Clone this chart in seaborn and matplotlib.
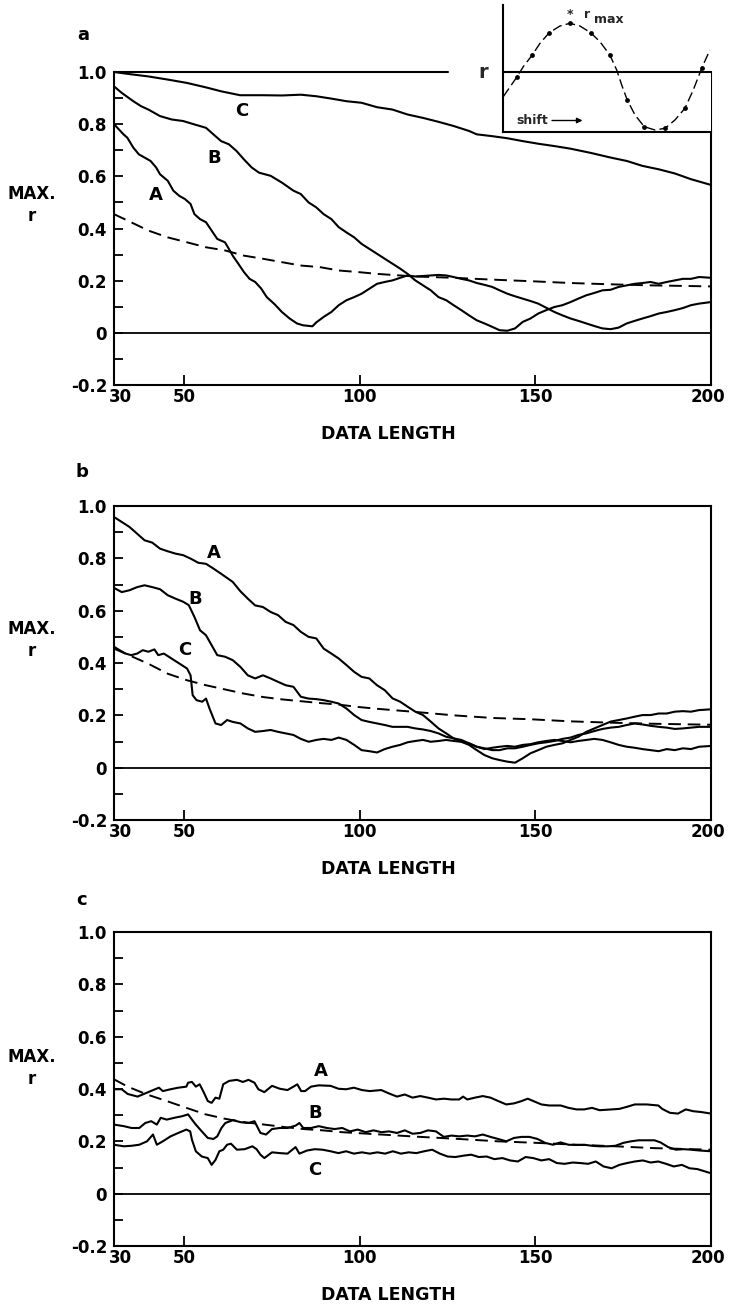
import matplotlib
matplotlib.use("Agg")
import matplotlib.pyplot as plt
from matplotlib.ticker import FixedLocator
from matplotlib.transforms import ScaledTranslation
import pandas as pd
import seaborn as sns

# ---------------- data ----------------
x_ticks = [30, 50, 100, 150, 200]
x_ticklabels = ["30", "50", "100", "150", "200"]
y_ticks = [-0.2, 0.0, 0.2, 0.4, 0.6, 0.8, 1.0]
y_ticklabels = ["-0.2", "0", "0.2", "0.4", "0.6", "0.8", "1.0"]
y_minor = [-0.1, 0.1, 0.3, 0.5, 0.7, 0.9]

# panel a
a_A = [(30, 0.800), (32.7, 0.761), (33.8, 0.748), (35.5, 0.710), (37.1, 0.684), (38.7, 0.672),
       (40.4, 0.659), (42.0, 0.634), (43.1, 0.608), (45.3, 0.583), (46.9, 0.545), (48.6, 0.525),
       (50.2, 0.513), (51.8, 0.494), (52.9, 0.455), (54.5, 0.436), (56.2, 0.424), (57.8, 0.392),
       (59.4, 0.360), (61.6, 0.347), (62.7, 0.322), (63.8, 0.296), (65.4, 0.265), (67.0, 0.233),
       (68.6, 0.207), (70.2, 0.195), (71.9, 0.170), (73.5, 0.137), (75.7, 0.110), (77.8, 0.080),
       (80.0, 0.055), (82.1, 0.036), (83.8, 0.029), (86.5, 0.025), (87.6, 0.040), (89.7, 0.061),
       (91.9, 0.080), (94.0, 0.106), (96.2, 0.125), (98.4, 0.137), (100.5, 0.150), (102.7, 0.169),
       (104.9, 0.188), (107.1, 0.195), (109.3, 0.201), (111.5, 0.211), (113.6, 0.220), (115.8, 0.216),
       (118.0, 0.218), (120.2, 0.220), (122.4, 0.222), (124.6, 0.220), (126.7, 0.214), (128.9, 0.207),
       (131.1, 0.201), (133.3, 0.191), (135.5, 0.184), (137.7, 0.176), (139.8, 0.163), (142.0, 0.150),
       (144.2, 0.140), (146.4, 0.131), (148.6, 0.122), (150.8, 0.112), (153.1, 0.096), (155.4, 0.080),
       (157.7, 0.067), (160.0, 0.055), (162.2, 0.046), (164.5, 0.036), (166.8, 0.026), (169.1, 0.017),
       (171.4, 0.014), (173.7, 0.020), (176.0, 0.036), (178.3, 0.046), (180.5, 0.055), (182.8, 0.064),
       (185.1, 0.074), (187.4, 0.080), (189.7, 0.087), (192.0, 0.095), (194.3, 0.106), (196.6, 0.112),
       (200, 0.118)]
a_B = [(30, 0.945), (32.2, 0.920), (35.5, 0.888), (37.7, 0.869), (39.8, 0.856), (43.1, 0.831),
       (46.4, 0.818), (49.7, 0.812), (52.9, 0.799), (56.2, 0.786), (58.3, 0.761), (60.5, 0.735),
       (62.7, 0.723), (64.9, 0.697), (67.0, 0.665), (69.2, 0.634), (71.3, 0.614), (74.6, 0.602),
       (77.8, 0.576), (81.1, 0.545), (83.2, 0.532), (85.4, 0.500), (87.6, 0.481), (89.7, 0.455),
       (91.9, 0.436), (94.0, 0.405), (96.2, 0.385), (98.4, 0.366), (100.5, 0.341), (102.7, 0.322),
       (104.9, 0.303), (107.1, 0.284), (109.3, 0.265), (111.5, 0.246), (113.6, 0.226), (115.8, 0.201),
       (118.0, 0.182), (120.2, 0.163), (122.4, 0.137), (124.6, 0.125), (126.7, 0.106), (128.9, 0.087),
       (131.1, 0.067), (133.3, 0.048), (135.5, 0.036), (137.7, 0.023), (139.8, 0.010), (142.0, 0.008),
       (144.2, 0.017), (146.4, 0.042), (148.6, 0.055), (150.8, 0.074), (153.1, 0.087), (155.4, 0.099),
       (157.7, 0.106), (160.0, 0.118), (162.2, 0.131), (164.5, 0.144), (166.8, 0.153), (169.1, 0.163),
       (171.4, 0.165), (173.7, 0.176), (176.0, 0.182), (178.3, 0.188), (180.5, 0.191), (182.8, 0.195),
       (185.1, 0.188), (187.4, 0.195), (189.7, 0.201), (192.0, 0.207), (194.3, 0.207), (196.6, 0.214),
       (200, 0.211)]
a_C = [(30, 1.0), (34.4, 0.992), (39.8, 0.983), (45.3, 0.971), (50.8, 0.958), (56.2, 0.941),
       (60.5, 0.926), (65.9, 0.911), (72.4, 0.911), (77.8, 0.910), (83.2, 0.913), (87.6, 0.907),
       (91.9, 0.898), (96.2, 0.888), (100.5, 0.882), (104.9, 0.865), (109.3, 0.856), (113.6, 0.837),
       (118.0, 0.824), (122.4, 0.809), (126.7, 0.793), (131.1, 0.774), (133.3, 0.761), (137.7, 0.754),
       (142.0, 0.746), (146.4, 0.735), (150.8, 0.725), (155.4, 0.716), (160.0, 0.706), (165.7, 0.690),
       (171.4, 0.672), (176.0, 0.659), (180.5, 0.640), (185.1, 0.627), (189.7, 0.611), (194.3, 0.589),
       (200, 0.567)]
a_limit = [(30, 0.455), (34.4, 0.427), (39.8, 0.392), (45.3, 0.366), (50.8, 0.347), (56.2, 0.328),
           (61.6, 0.316), (67.0, 0.296), (72.4, 0.284), (77.8, 0.271), (83.2, 0.258), (88.6, 0.252),
           (94.0, 0.239), (99.5, 0.233), (104.9, 0.226), (115.8, 0.216), (126.7, 0.211), (137.7, 0.204),
           (148.6, 0.198), (160.0, 0.191), (171.4, 0.186), (182.8, 0.182), (200, 0.178)]

# panel b
b_A = [(30, 0.958), (32.2, 0.939), (34.4, 0.920), (36.6, 0.894), (38.7, 0.869), (40.9, 0.860),
       (43.1, 0.837), (45.3, 0.827), (47.5, 0.818), (49.7, 0.812), (51.8, 0.799), (54.0, 0.783),
       (56.2, 0.779), (58.3, 0.761), (60.5, 0.741), (63.8, 0.710), (66.0, 0.674), (68.1, 0.646),
       (70.2, 0.620), (72.4, 0.614), (74.6, 0.595), (76.7, 0.583), (78.9, 0.557), (81.1, 0.545),
       (83.2, 0.519), (85.4, 0.500), (87.6, 0.494), (89.7, 0.455), (91.9, 0.436), (94.0, 0.417),
       (96.2, 0.392), (98.4, 0.366), (100.5, 0.347), (102.7, 0.341), (104.9, 0.315), (107.1, 0.296),
       (109.3, 0.265), (111.5, 0.252), (113.6, 0.233), (115.8, 0.214), (118.0, 0.201), (120.2, 0.176),
       (122.4, 0.150), (124.6, 0.131), (126.7, 0.112), (128.9, 0.099), (131.1, 0.087), (133.3, 0.067),
       (135.5, 0.048), (137.7, 0.036), (139.8, 0.029), (142.0, 0.023), (144.2, 0.019), (146.4, 0.036),
       (148.6, 0.055), (150.8, 0.067), (153.1, 0.080), (155.4, 0.087), (157.7, 0.093), (160.0, 0.106),
       (162.2, 0.118), (164.5, 0.137), (166.8, 0.150), (169.1, 0.163), (171.4, 0.176), (173.7, 0.182),
       (176.0, 0.188), (178.3, 0.195), (180.5, 0.201), (182.8, 0.201), (185.1, 0.207), (187.4, 0.207),
       (189.7, 0.214), (192.0, 0.216), (194.3, 0.214), (196.6, 0.220), (200, 0.223)]
b_B = [(30, 0.687), (32.2, 0.671), (34.4, 0.678), (36.6, 0.690), (38.7, 0.697), (40.9, 0.690),
       (43.1, 0.682), (45.3, 0.659), (47.5, 0.646), (49.7, 0.634), (51.3, 0.621), (52.9, 0.576),
       (54.5, 0.525), (56.2, 0.506), (57.8, 0.468), (59.4, 0.430), (61.6, 0.424), (63.8, 0.411),
       (66.0, 0.385), (68.1, 0.353), (70.2, 0.341), (72.4, 0.353), (74.6, 0.341), (76.7, 0.328),
       (78.9, 0.315), (81.1, 0.309), (83.2, 0.271), (85.4, 0.264), (87.6, 0.262), (89.7, 0.258),
       (91.9, 0.252), (94.0, 0.245), (96.2, 0.226), (98.4, 0.201), (100.5, 0.182), (102.7, 0.175),
       (104.9, 0.169), (107.1, 0.163), (109.3, 0.156), (111.5, 0.156), (113.6, 0.156), (115.8, 0.150),
       (118.0, 0.146), (120.2, 0.140), (122.4, 0.131), (124.6, 0.118), (126.7, 0.112), (128.9, 0.106),
       (131.1, 0.093), (133.3, 0.080), (135.5, 0.074), (137.7, 0.067), (139.8, 0.067), (142.0, 0.074),
       (144.2, 0.074), (146.4, 0.080), (148.6, 0.087), (150.8, 0.093), (153.1, 0.097), (155.4, 0.102),
       (157.7, 0.110), (160.0, 0.115), (162.2, 0.125), (164.5, 0.131), (166.8, 0.140), (169.1, 0.148),
       (171.4, 0.153), (173.7, 0.156), (176.0, 0.163), (178.3, 0.169), (180.5, 0.165), (182.8, 0.160),
       (185.1, 0.156), (187.4, 0.153), (189.7, 0.148), (192.0, 0.150), (194.3, 0.153), (196.6, 0.156),
       (200, 0.156)]
b_C = [(30, 0.462), (31.6, 0.449), (33.3, 0.436), (34.9, 0.430), (36.6, 0.436), (38.2, 0.449),
       (39.8, 0.443), (41.5, 0.452), (42.6, 0.430), (44.2, 0.436), (46.4, 0.417), (48.6, 0.398),
       (50.8, 0.379), (51.8, 0.353), (52.4, 0.277), (53.5, 0.258), (55.1, 0.252), (56.2, 0.264),
       (57.2, 0.226), (58.9, 0.169), (60.5, 0.163), (62.2, 0.182), (63.8, 0.175), (66.0, 0.169),
       (68.1, 0.150), (70.2, 0.137), (72.4, 0.140), (74.6, 0.144), (76.7, 0.137), (78.9, 0.131),
       (81.1, 0.125), (83.2, 0.110), (85.4, 0.099), (87.6, 0.106), (89.7, 0.110), (91.9, 0.106),
       (94.0, 0.115), (96.2, 0.106), (98.4, 0.087), (100.5, 0.067), (102.7, 0.063), (104.9, 0.058),
       (107.1, 0.071), (109.3, 0.080), (111.5, 0.087), (113.6, 0.097), (115.8, 0.102), (118.0, 0.106),
       (120.2, 0.099), (122.4, 0.102), (124.6, 0.106), (126.7, 0.102), (128.9, 0.099), (131.1, 0.093),
       (133.3, 0.080), (135.5, 0.071), (137.7, 0.076), (139.8, 0.080), (142.0, 0.083), (144.2, 0.080),
       (146.4, 0.087), (148.6, 0.090), (150.8, 0.097), (153.1, 0.102), (155.4, 0.106), (157.7, 0.102),
       (160.0, 0.097), (162.2, 0.102), (164.5, 0.106), (166.8, 0.110), (169.1, 0.106), (171.4, 0.097),
       (173.7, 0.087), (176.0, 0.080), (178.3, 0.076), (180.5, 0.071), (182.8, 0.067), (185.1, 0.063),
       (187.4, 0.071), (189.7, 0.067), (192.0, 0.074), (194.3, 0.071), (196.6, 0.080), (200, 0.083)]
b_limit = [(30, 0.455), (34.4, 0.429), (39.8, 0.397), (45.3, 0.359), (50.8, 0.334), (56.2, 0.315),
           (61.6, 0.299), (67.0, 0.283), (72.4, 0.270), (77.8, 0.261), (83.2, 0.254), (88.6, 0.247),
           (94.0, 0.241), (99.5, 0.232), (104.9, 0.225), (115.8, 0.213), (126.7, 0.200), (137.7, 0.190),
           (148.6, 0.185), (160.0, 0.177), (171.4, 0.172), (182.8, 0.168), (200, 0.164)]

# panel c
c_A = [(30, 0.399), (32.2, 0.399), (33.9, 0.381), (36.7, 0.371), (39.4, 0.386), (41.7, 0.399),
       (42.8, 0.405), (43.9, 0.392), (46.1, 0.399), (48.3, 0.405), (50.6, 0.409), (51.1, 0.424),
       (52.2, 0.427), (53.3, 0.409), (54.4, 0.418), (55.6, 0.386), (56.7, 0.354), (57.8, 0.347),
       (58.9, 0.367), (60.0, 0.363), (61.1, 0.418), (62.8, 0.431), (65.0, 0.435), (66.7, 0.427),
       (68.3, 0.435), (70.0, 0.424), (71.1, 0.399), (72.8, 0.388), (75.0, 0.412), (77.2, 0.401),
       (79.4, 0.396), (81.1, 0.409), (82.2, 0.418), (83.3, 0.392), (84.4, 0.392), (86.1, 0.409),
       (88.3, 0.414), (91.7, 0.412), (93.9, 0.401), (96.1, 0.399), (98.3, 0.405), (100.6, 0.396),
       (102.8, 0.392), (106.1, 0.396), (108.3, 0.383), (110.6, 0.371), (112.8, 0.379), (115.0, 0.367),
       (117.2, 0.373), (119.4, 0.367), (121.7, 0.360), (123.9, 0.363), (126.1, 0.360), (128.3, 0.360),
       (129.4, 0.371), (130.6, 0.360), (132.8, 0.367), (135.0, 0.373), (137.2, 0.367), (139.4, 0.354),
       (141.7, 0.341), (143.9, 0.345), (146.1, 0.354), (147.8, 0.363), (149.4, 0.354), (151.7, 0.341),
       (153.9, 0.337), (157.2, 0.337), (159.4, 0.328), (161.7, 0.322), (163.9, 0.322), (166.1, 0.328),
       (168.3, 0.319), (171.7, 0.322), (173.9, 0.324), (176.1, 0.332), (178.3, 0.341), (181.7, 0.341),
       (185.0, 0.337), (186.1, 0.324), (188.3, 0.309), (190.6, 0.306), (192.8, 0.322), (195.0, 0.315),
       (197.2, 0.312), (200, 0.306)]
c_B = [(30, 0.264), (32.8, 0.258), (35.0, 0.251), (37.2, 0.251), (38.9, 0.270), (40.6, 0.277),
       (42.2, 0.264), (43.3, 0.290), (45.0, 0.283), (47.2, 0.290), (49.4, 0.296), (51.1, 0.303),
       (52.2, 0.283), (53.3, 0.264), (55.0, 0.238), (56.7, 0.213), (58.3, 0.209), (59.4, 0.219),
       (60.6, 0.251), (61.7, 0.270), (63.9, 0.281), (66.1, 0.273), (68.3, 0.270), (70.0, 0.277),
       (71.7, 0.232), (73.3, 0.226), (75.0, 0.247), (77.2, 0.251), (79.4, 0.251), (81.7, 0.260),
       (82.8, 0.270), (83.9, 0.251), (86.1, 0.251), (88.3, 0.258), (90.6, 0.251), (92.8, 0.247),
       (95.0, 0.251), (97.2, 0.238), (99.4, 0.245), (101.7, 0.235), (103.9, 0.242), (106.1, 0.235),
       (108.3, 0.238), (110.6, 0.232), (112.8, 0.242), (115.0, 0.229), (117.2, 0.232), (119.4, 0.242),
       (121.7, 0.238), (123.9, 0.217), (126.1, 0.222), (128.3, 0.219), (130.6, 0.222), (132.8, 0.219),
       (135.0, 0.226), (137.2, 0.217), (139.4, 0.209), (141.7, 0.200), (143.9, 0.213), (146.1, 0.217),
       (148.3, 0.217), (150.6, 0.209), (152.8, 0.194), (155.0, 0.187), (157.2, 0.196), (159.4, 0.187),
       (161.7, 0.186), (163.9, 0.187), (166.1, 0.183), (168.3, 0.181), (170.6, 0.181), (172.8, 0.183),
       (175.0, 0.194), (177.2, 0.200), (179.4, 0.204), (183.9, 0.204), (185.6, 0.196), (187.8, 0.178),
       (190.0, 0.168), (192.2, 0.170), (194.4, 0.168), (196.7, 0.165), (200, 0.162)]
c_C = [(30, 0.187), (32.8, 0.181), (35.0, 0.183), (37.2, 0.187), (39.4, 0.200), (41.1, 0.226),
       (42.2, 0.187), (43.9, 0.200), (46.1, 0.219), (48.3, 0.232), (50.6, 0.245), (51.7, 0.238),
       (52.2, 0.206), (53.3, 0.162), (55.0, 0.142), (56.7, 0.136), (57.8, 0.110), (58.9, 0.129),
       (60.0, 0.162), (61.1, 0.168), (62.2, 0.187), (63.3, 0.191), (65.0, 0.168), (67.2, 0.170),
       (69.4, 0.181), (70.6, 0.170), (71.7, 0.149), (72.8, 0.136), (75.0, 0.158), (77.2, 0.155),
       (79.4, 0.153), (81.7, 0.178), (82.8, 0.153), (85.0, 0.165), (87.2, 0.170), (89.4, 0.168),
       (91.7, 0.162), (93.9, 0.155), (96.1, 0.162), (98.3, 0.153), (100.6, 0.158), (102.8, 0.153),
       (105.0, 0.158), (107.2, 0.153), (109.4, 0.162), (111.7, 0.153), (113.9, 0.158), (116.1, 0.155),
       (118.3, 0.162), (120.6, 0.168), (122.8, 0.153), (125.0, 0.142), (127.2, 0.140), (129.4, 0.145),
       (131.7, 0.149), (133.9, 0.140), (136.1, 0.142), (138.3, 0.132), (140.6, 0.136), (142.8, 0.127),
       (145.0, 0.123), (147.2, 0.140), (149.4, 0.136), (151.7, 0.127), (153.9, 0.132), (156.1, 0.117),
       (158.3, 0.114), (160.6, 0.119), (162.8, 0.117), (165.0, 0.114), (167.2, 0.123), (169.4, 0.104),
       (171.7, 0.097), (173.9, 0.110), (176.1, 0.117), (178.3, 0.123), (180.6, 0.127), (182.8, 0.119),
       (185.0, 0.123), (187.2, 0.114), (189.4, 0.104), (191.7, 0.110), (193.9, 0.097), (196.1, 0.094),
       (198.3, 0.085), (200, 0.078)]
c_limit = [(30, 0.437), (33.9, 0.409), (39.4, 0.379), (45.0, 0.354), (50.6, 0.328), (56.1, 0.303),
           (61.7, 0.286), (67.2, 0.273), (72.8, 0.264), (78.3, 0.255), (83.9, 0.247), (89.4, 0.242),
           (95.0, 0.235), (106.1, 0.226), (117.2, 0.217), (128.3, 0.209), (139.4, 0.200), (150.6, 0.194),
           (161.7, 0.187), (172.8, 0.181), (183.9, 0.174), (200, 0.168)]

# curve labels (x, y) per panel
a_labels = [("A", 41.8, 0.530), ("B", 58.6, 0.672), ("C", 66.4, 0.852)]
b_labels = [("A", 58.3, 0.822), ("B", 53.0, 0.646), ("C", 50.2, 0.448)]
c_labels = [("A", 88.8, 0.467), ("B", 87.2, 0.309), ("C", 87.2, 0.091)]

# inset schematic (shift, r)
inset_curve_shift = [0.02, 0.74, 1.10, 1.58, 2.0, 2.50, 3.08, 3.62, 4.16, 4.74, 5.24, 5.78,
                     6.15, 6.42, 6.72, 7.14, 7.64, 8.22, 8.76, 9.30, 9.84, 10.29, 10.76, 11.19]
inset_curve_r = [-0.49, -0.106, 0.107, 0.34, 0.573, 0.786, 0.92, 0.974, 0.92, 0.786, 0.607, 0.34,
                 0.04, -0.26, -0.56, -0.86, -1.094, -1.16, -1.126, -0.96, -0.726, -0.36, 0.086, 0.44]
inset_dot_shift = [0.74, 1.58, 2.50, 3.62, 4.74, 5.78, 6.72, 7.64, 8.76, 9.84, 10.76]
inset_dot_r = [-0.106, 0.34, 0.786, 0.974, 0.786, 0.34, -0.56, -1.094, -1.126, -0.726, 0.086]

# ---------------- style ----------------
sns.set_theme(style="white")
plt.rcParams["font.family"] = ["DejaVu Sans"]
plt.rcParams["font.weight"] = "bold"
plt.rcParams["axes.labelweight"] = "bold"

W, H = 730, 1306
fig = plt.figure(figsize=(W / 100, H / 100), dpi=100)
fig.patch.set_facecolor("white")


def fig_rect(left, top, right, bottom):
    return [left / W, 1 - bottom / H, (right - left) / W, (bottom - top) / H]


def to_df(pairs):
    return pd.DataFrame(pairs, columns=["length", "r"])


def draw_panel(rect, curves, limit, labels, letter, letter_pos, ylab_y, top_spine=True):
    ax = fig.add_axes(rect)
    ax.set_facecolor("white")
    for pairs in curves:
        sns.lineplot(data=to_df(pairs), x="length", y="r", ax=ax, color="black",
                     linewidth=1.5, estimator=None, sort=False)
    sns.lineplot(data=to_df(limit), x="length", y="r", ax=ax, color="black",
                 linewidth=1.4, estimator=None, sort=False, linestyle=(0, (6.5, 3.5)))
    ax.axhline(0, color="black", linewidth=1.3)
    ax.set_xlim(30, 200)
    ax.set_ylim(-0.2, 1.0)
    ax.xaxis.set_major_locator(FixedLocator(x_ticks))
    ax.set_xticklabels(x_ticklabels, fontsize=12, fontweight="bold")
    ax.yaxis.set_major_locator(FixedLocator(y_ticks))
    ax.set_yticklabels(y_ticklabels, fontsize=12, fontweight="bold")
    ax.yaxis.set_minor_locator(FixedLocator(y_minor))
    ax.tick_params(axis="both", which="both", direction="in", top=False, right=False,
                   left=True, bottom=True, colors="black", width=1.3)
    ax.tick_params(axis="y", which="both", length=6.5, pad=5)
    ax.tick_params(axis="x", which="major", length=7.5, pad=2)
    ax.tick_params(axis="x", which="minor", length=0)
    for side in ["left", "bottom", "right", "top"]:
        ax.spines[side].set_color("black")
        ax.spines[side].set_linewidth(1.5)
    if not top_spine:
        ax.spines["top"].set_visible(False)
    # nudge the end labels like the original
    xl = ax.get_xticklabels()
    xl[0].set_transform(xl[0].get_transform() + ScaledTranslation(6 / 100, 0, fig.dpi_scale_trans))
    xl[-1].set_transform(xl[-1].get_transform() + ScaledTranslation(-3 / 100, 0, fig.dpi_scale_trans))
    ax.set_xlabel("DATA LENGTH", fontsize=12.5, fontweight="bold", color="black")
    ax.xaxis.set_label_coords(0.459, -0.128)
    ax.set_ylabel("MAX.\nr", rotation=0, fontsize=12, fontweight="bold", color="black",
                  ha="center", va="center", linespacing=1.3, multialignment="center")
    ax.yaxis.set_label_coords(-0.137, ylab_y)
    for txt, lx, ly in labels:
        ax.text(lx, ly, txt, fontsize=13, fontweight="bold", ha="center", va="center", color="black")
    fig.text(letter_pos[0] / W, 1 - letter_pos[1] / H, letter, fontsize=13, fontweight="bold",
             ha="center", va="center", color="black")
    return ax


ax_a = draw_panel(fig_rect(114, 72, 711, 385), [a_A, a_B, a_C], a_limit, a_labels,
                  "a", (83, 35), 0.575, top_spine=False)
ax_a.axhline(1.0, xmin=0, xmax=(125 - 30) / 170, color="black", linewidth=1.5, clip_on=False)
ax_b = draw_panel(fig_rect(114, 506, 711, 820), [b_A, b_B, b_C], b_limit, b_labels,
                  "b", (82, 472), 0.573)
ax_c = draw_panel(fig_rect(114, 932, 711, 1246), [c_A, c_B, c_C], c_limit, c_labels,
                  "c", (82, 900), 0.566)

# ---------------- inset schematic ----------------
ax_in = fig.add_axes(fig_rect(503, 5, 711, 132))
ax_in.set_facecolor("white")
ax_in.patch.set_alpha(1.0)
ax_in.set_xlim(0, 11.25)
ax_in.set_ylim(-1.2, 1.34)
ax_in.set_xticks([])
ax_in.set_yticks([])
ax_in.spines["top"].set_visible(False)
ax_in.spines["right"].set_visible(False)
for side in ["left", "bottom"]:
    ax_in.spines[side].set_color("black")
    ax_in.spines[side].set_linewidth(1.5)
ax_in.axhline(0, color="black", linewidth=1.5)
sns.lineplot(x=inset_curve_shift, y=inset_curve_r, ax=ax_in, color="black", linewidth=1.0,
             estimator=None, sort=False, linestyle=(0, (7, 3)))
sns.scatterplot(x=inset_dot_shift, y=inset_dot_r, ax=ax_in, color="black", s=12,
                linewidth=0, zorder=5)
ax_in.text(-1.08, 0.0, "r", fontsize=14, fontweight="bold", ha="center", va="center", clip_on=False)
ax_in.text(3.62, 1.15, "*", fontsize=9, fontweight="bold", ha="center", va="center")
ax_in.text(4.55, 1.16, "r", fontsize=9, fontweight="bold", ha="center", va="center")
ax_in.text(5.75, 1.05, "max", fontsize=9, fontweight="bold", ha="center", va="center")
ax_in.text(1.60, -0.96, "shift", fontsize=9, fontweight="bold", ha="center", va="center")
ax_in.annotate("", xy=(4.30, -0.97), xytext=(2.65, -0.97),
               arrowprops=dict(arrowstyle="-|>", color="black", lw=1.0,
                               mutation_scale=8, shrinkA=0, shrinkB=0))

fig.savefig("out.png", dpi=100, facecolor="white")
